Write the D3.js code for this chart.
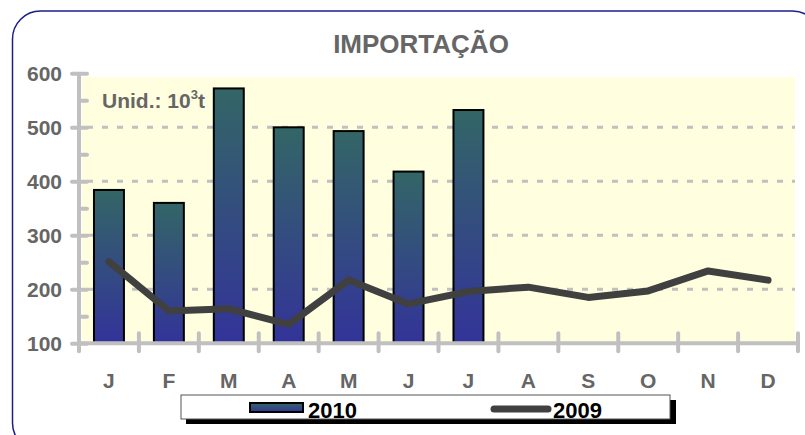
<!DOCTYPE html>
<html>
<head>
<meta charset="utf-8">
<script src="https://cdn.jsdelivr.net/npm/d3@7"></script>
<style>
  body { margin: 0; background: #fff; }
  svg { display: block; font-family: Arial, "Liberation Sans", sans-serif; }
</style>
</head>
<body>
<div id="chart"></div>
<script>
"use strict";

// chart data
const months = ["J", "F", "M", "A", "M", "J", "J", "A", "S", "O", "N", "D"];
const values2010 = [384, 360, 572, 500, 493, 418, 532];
const values2009 = [251, 160, 164, 135, 217, 173, 196, 204, 185, 197, 234, 217];
const yTicks = [100, 200, 300, 400, 500, 600];
const yMinorTicks = [150, 250, 350, 450, 550];
const gridTicks = [200, 300, 400, 500];

const width = 805, height = 435;

const svg = d3.select("#chart").append("svg")
  .attr("width", width)
  .attr("height", height);

// gradient for the bars
const defs = svg.append("defs");
const grad = defs.append("linearGradient")
  .attr("id", "barGrad")
  .attr("x1", 0).attr("y1", 0).attr("x2", 0).attr("y2", 1);
grad.append("stop").attr("offset", "0%").attr("stop-color", "#336666");
grad.append("stop").attr("offset", "100%").attr("stop-color", "#333399");

// outer rounded frame
svg.append("rect")
  .attr("x", 12.5).attr("y", 11)
  .attr("width", 808).attr("height", 440)
  .attr("rx", 28).attr("ry", 28)
  .attr("fill", "none")
  .attr("stroke", "#1c1c8f")
  .attr("stroke-width", 1.5);

// scales
const x = d3.scaleBand()
  .domain(d3.range(months.length))
  .range([79, 798])
  .padding(0);
const y = d3.scaleLinear()
  .domain([100, 600])
  .range([343.3, 73.3]);

// plot background
svg.append("rect")
  .attr("x", 82).attr("y", 77)
  .attr("width", 795 - 82).attr("height", y(100) - 77)
  .attr("fill", "#ffffe0");

// title
svg.append("text")
  .attr("x", 421).attr("y", 53)
  .attr("text-anchor", "middle")
  .style("font-size", "26px")
  .style("font-weight", "bold")
  .attr("fill", "#666")
  .text("IMPORTAÇÃO");

// dashed gridlines
svg.append("g")
  .selectAll("line")
  .data(gridTicks)
  .enter()
  .append("line")
  .attr("x1", 87).attr("x2", 795)
  .attr("y1", d => y(d)).attr("y2", d => y(d))
  .attr("stroke", "#c0c0c0")
  .attr("stroke-width", 3)
  .attr("stroke-dasharray", "6,9");

// unit label
const unit = svg.append("text")
  .attr("x", 102).attr("y", 108)
  .style("font-size", "21px")
  .style("font-weight", "bold")
  .attr("fill", "#666");
unit.append("tspan").text("Unid.: 10");
unit.append("tspan").attr("dy", -9).style("font-size", "13px").text("3");
unit.append("tspan").attr("dy", 9).text("t");

// bars 2010
const bw = x.bandwidth();
svg.append("g")
  .selectAll(".bar")
  .data(values2010)
  .enter()
  .append("rect")
  .attr("class", "bar")
  .attr("x", (d, i) => x(i) + bw * 0.25)
  .attr("y", d => y(d))
  .attr("width", bw * 0.5)
  .attr("height", d => y(100) - y(d))
  .attr("fill", "url(#barGrad)")
  .attr("stroke", "#000")
  .attr("stroke-width", 2);

// line 2009
const line = d3.line()
  .x((d, i) => x(i) + bw / 2)
  .y(d => y(d));
svg.append("path")
  .datum(values2009)
  .attr("d", line)
  .attr("fill", "none")
  .attr("stroke", "#404040")
  .attr("stroke-width", 7)
  .attr("stroke-linejoin", "round")
  .attr("stroke-linecap", "round");

// y axis
const yAxis = svg.append("g")
  .attr("transform", "translate(79,0)")
  .call(d3.axisLeft(y).tickValues(yTicks).tickSize(7).tickPadding(10));
yAxis.select(".domain")
  .attr("d", `M0,${y(600)}V${y(100)}`)
  .attr("stroke", "#c0c0c0")
  .attr("stroke-width", 4);
yAxis.selectAll(".tick line")
  .attr("x1", 8)
  .attr("stroke", "#c0c0c0")
  .attr("stroke-width", 4)
  .attr("stroke-linecap", "round");
yAxis.selectAll(".tick text")
  .attr("fill", "#666")
  .style("font-size", "21px")
  .style("font-weight", "bold");

svg.append("g")
  .attr("transform", "translate(79,0)")
  .call(d3.axisLeft(y).tickValues(yMinorTicks).tickSize(-8).tickFormat(""))
  .call(g => g.select(".domain").remove())
  .selectAll(".tick line")
  .attr("stroke", "#c0c0c0")
  .attr("stroke-width", 4)
  .attr("stroke-linecap", "round");

// x axis
const xAxis = svg.append("g")
  .attr("transform", `translate(0,${y(100)})`)
  .call(d3.axisBottom(x).tickSize(0).tickPadding(30).tickFormat(i => months[i]));
xAxis.select(".domain")
  .attr("d", "M79,0H798")
  .attr("stroke", "#c0c0c0")
  .attr("stroke-width", 4);
xAxis.selectAll(".tick text")
  .attr("fill", "#666")
  .style("font-size", "21px")
  .style("font-weight", "bold");
xAxis.selectAll(".boundary")
  .data(d3.range(months.length + 1))
  .enter()
  .append("line")
  .attr("class", "boundary")
  .attr("x1", i => 79 + i * x.step()).attr("x2", i => 79 + i * x.step())
  .attr("y1", -10).attr("y2", 8)
  .attr("stroke", "#c0c0c0")
  .attr("stroke-width", 4)
  .attr("stroke-linecap", "round");

// legend
const legend = svg.append("g");
legend.append("rect")
  .attr("x", 186).attr("y", 400)
  .attr("width", 490).attr("height", 24)
  .attr("fill", "#000");
legend.append("rect")
  .attr("x", 181).attr("y", 395)
  .attr("width", 489).attr("height", 24)
  .attr("fill", "#fff")
  .attr("stroke", "#555")
  .attr("stroke-width", 1);
legend.append("rect")
  .attr("x", 250).attr("y", 403)
  .attr("width", 53).attr("height", 9)
  .attr("fill", "url(#barGrad)")
  .attr("stroke", "#000")
  .attr("stroke-width", 2);
legend.append("text")
  .attr("x", 308).attr("y", 417.5)
  .style("font-size", "22px")
  .style("font-weight", "bold")
  .attr("fill", "#000")
  .text("2010");
legend.append("line")
  .attr("x1", 494).attr("x2", 548)
  .attr("y1", 409).attr("y2", 409)
  .attr("stroke", "#404040")
  .attr("stroke-width", 7)
  .attr("stroke-linecap", "round");
legend.append("text")
  .attr("x", 553).attr("y", 417.5)
  .style("font-size", "22px")
  .style("font-weight", "bold")
  .attr("fill", "#000")
  .text("2009");
</script>
</body>
</html>
